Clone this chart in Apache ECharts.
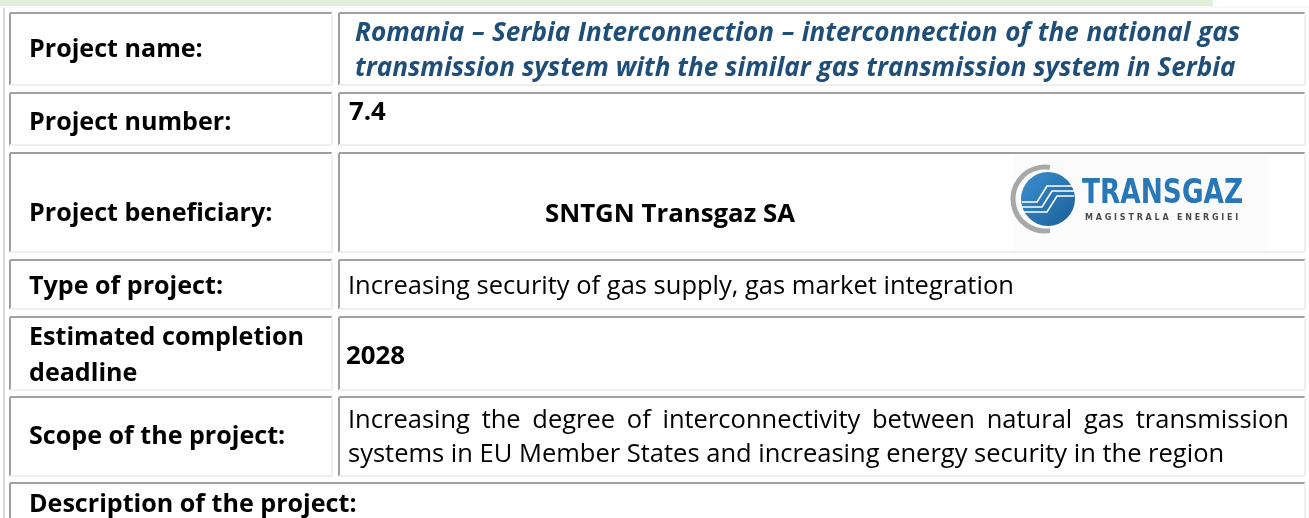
<!doctype html>
<html>
<head>
<meta charset="UTF-8">
<title>Project 7.4</title>
<script src="https://cdn.jsdelivr.net/npm/echarts@6/dist/echarts.min.js"></script>
<style>
html, body { margin: 0; padding: 0; background: #fff; }
#main { width: 1309px; height: 518px; }
</style>
</head>
<body>
<div id="main"></div>
<script>
// table content
var rowLabels = [['Project name:'], ['Project number:'], ['Project beneficiary:'], ['Type of project:'], ['Estimated completion', 'deadline'], ['Scope of the project:'], ['Description of the project:']];
var projectName = ['Romania – Serbia Interconnection – interconnection of the national gas', 'transmission system with the similar gas transmission system in Serbia'];
var projectNumber = ['7.4'];
var beneficiary = ['SNTGN Transgaz SA'];
var projectType = ['Increasing security of gas supply, gas market integration'];
var deadline = ['2028'];
var scope = ['Increasing the degree of interconnectivity between natural gas transmission', 'systems in EU Member States and increasing energy security in the region'];
var logoWords = ['TRANSGAZ', 'MAGISTRALA ENERGIEI'];
var headingTails = ['y', 'g', 'y'];

// layout
var rowTop = [13, 93, 153, 260, 317, 397, 483];
var rowBottom = [85, 145, 252, 309, 390, 476, 540];
var labelX = [10, 332];
var valueX = [339, 1305];

var measureCtx = document.createElement('canvas').getContext('2d');
function measure(str, font) {
	measureCtx.font = font;
	return measureCtx.measureText(str).width;
}
// font size that gives str the wanted width
function fitSize(str, pre, family, width) {
	var w = measure(str, pre + ' 100px ' + family);
	return Math.round(100 * width / w * 10) / 10;
}

var fam = '"Open Sans"';
var fontLabel = 'bold ' + fitSize(rowLabels[6][0], 'bold', fam, 327) + 'px ' + fam;
var fontBody = fitSize(projectType[0], 'normal', fam, 665) + 'px ' + fam;
var fontBlue = 'italic bold ' + fitSize(projectName[1], 'italic bold', fam, 882) + 'px ' + fam;
var fontBold = 'bold ' + fitSize(beneficiary[0], 'bold', fam, 250) + 'px ' + fam;

var els = [];

function line(x1, y1, x2, y2, color, width) {
	els.push({
		type: 'line',
		shape: { x1: x1, y1: y1, x2: x2, y2: y2 },
		style: { stroke: color, lineWidth: width },
		silent: true
	});
}

function text(str, x, y, font, fill, align) {
	els.push({
		type: 'text',
		style: {
			text: str, x: x, y: y, font: font, fill: fill,
			textAlign: align || 'left', textVerticalAlign: 'middle'
		},
		silent: true
	});
}

function justified(str, x1, x2, y, font, fill) {
	var words = str.split(' ');
	var widths = words.map(function (w) { return measure(w, font); });
	var sum = widths.reduce(function (a, b) { return a + b; }, 0);
	var gap = (x2 - x1 - sum) / (words.length - 1);
	var x = x1;
	words.forEach(function (w, i) {
		text(w, x, y, font, fill);
		x += widths[i] + gap;
	});
}

// inset cell border: dark top/left, light bottom/right
function cell(x1, y1, x2, y2) {
	line(x1, y1, x2, y1, '#a0a0a0', 2);
	line(x1, y1, x1, y2, '#a0a0a0', 2);
	line(x1, y2, x2, y2, '#efefef', 2);
	line(x2, y1, x2, y2, '#efefef', 2);
}

// top band of the page heading, only the descenders show
els.push({ type: 'rect', shape: { x: 0, y: 0, width: 1213, height: 6 }, style: { fill: '#e2efd9' }, silent: true });
[200, 523, 770].forEach(function (x, i) {
	els.push({
		type: 'text',
		style: { text: headingTails[i], x: x, y: -1, font: 'bold 27px ' + fam, fill: '#000', textAlign: 'center', textVerticalAlign: 'bottom' },
		silent: true
	});
});
line(0, 7, 1309, 7, '#f3f3f3', 1);
// outer table edge
line(4, 8, 4, 518, '#d8d8d8', 2);

var labelY = [50, 123, 214, 287, [338, 374], 437, 505];
rowLabels.forEach(function (lbl, i) {
	var top = rowTop[i], bot = rowBottom[i];
	if (i === rowLabels.length - 1) {
		cell(labelX[0], top, valueX[1], bot);
	} else {
		cell(labelX[0], top, labelX[1], bot);
		cell(valueX[0], top, valueX[1], bot);
	}
	if (lbl.length === 1) {
		text(lbl[0], 29, labelY[i], fontLabel, '#000');
	} else {
		text(lbl[0], 29, labelY[i][0], fontLabel, '#000');
		text(lbl[1], 29, labelY[i][1], fontLabel, '#000');
	}
});

// values
justified(projectName[0], 355, 1240, 34, fontBlue, '#1f4e79');
text(projectName[1], 355, 69, fontBlue, '#1f4e79');
text(projectNumber[0], 349, 113, fontBold, '#000');
text(beneficiary[0], 545, 215, fontBold, '#000');
text(projectType[0], 348, 287, fontBody, '#000');
text(deadline[0], 346, 357, fontBold, '#000');
justified(scope[0], 348, 1289, 421, fontBody, '#000');
text(scope[1], 348, 455, fontBody, '#000');

// logo
var lx = 1048, ly = 199;
els.push({ type: 'rect', shape: { x: 1013, y: 154, width: 256, height: 97 }, style: { fill: '#fbfbfb' }, silent: true });
els.push({ type: 'arc', shape: { cx: lx - 3, cy: ly, r: 32, startAngle: Math.PI * 0.45, endAngle: Math.PI * 1.55 }, style: { stroke: '#a8a8a8', lineWidth: 5, fill: null }, silent: true });
els.push({
	type: 'circle', shape: { cx: lx, cy: ly, r: 27 },
	style: { fill: new echarts.graphic.LinearGradient(0, 0, 1, 1, [{ offset: 0, color: '#3b8fd0' }, { offset: 1, color: '#1b5f98' }]) },
	silent: true
});
[-5, 0, 5].forEach(function (d) {
	els.push({
		type: 'polyline',
		shape: { points: [[lx - 26, ly + 8 + d], [lx - 6 + d, ly + 8 + d], [lx + 4 + d, ly - 8 + d], [lx + 26, ly - 8 + d]] },
		style: { stroke: '#ffffff', lineWidth: 1.6, fill: null },
		silent: true
	});
});
els.push({
	type: 'text', x: 1082, y: 194, scaleX: 0.8, scaleY: 1,
	style: { text: logoWords[0], x: 0, y: 0, font: 'bold 33px "DejaVu Sans"', fill: '#2877b6', stroke: '#ffffff', lineWidth: 0.8, textVerticalAlign: 'middle' },
	silent: true
});
els.push({
	type: 'text',
	style: { text: logoWords[1].split('').join(' '), x: 1085, y: 218, font: 'bold 8px "DejaVu Sans"', fill: '#4a4a4a', textVerticalAlign: 'middle' },
	silent: true
});

var chart = echarts.init(document.getElementById('main'));
chart.setOption({
	animation: false,
	graphic: { elements: els }
});
</script>
</body>
</html>
